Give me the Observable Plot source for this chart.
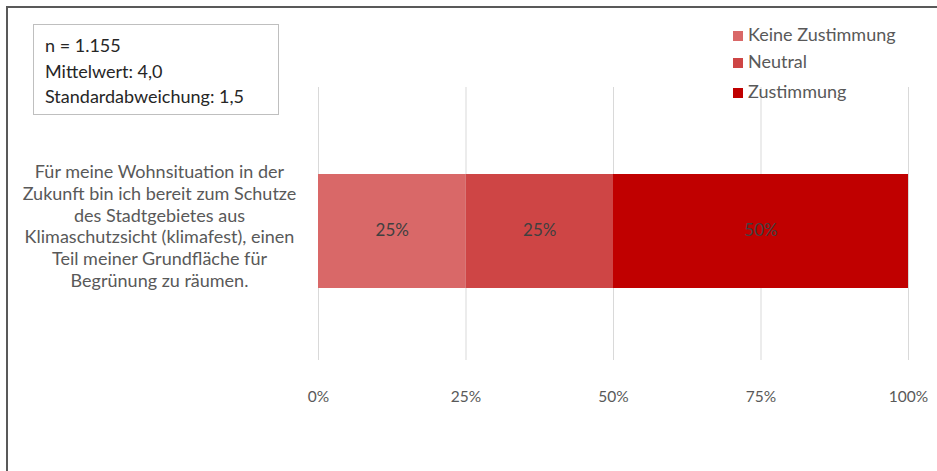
<!DOCTYPE html>
<html><head><meta charset="utf-8">
<script src="https://cdn.jsdelivr.net/npm/d3@7"></script>
<script src="https://cdn.jsdelivr.net/npm/@observablehq/plot@0.6"></script>
<style>
body{margin:0;background:#fff;font-family:Lato,"Open Sans",sans-serif}
#wrap{position:relative;width:937px;height:471px;overflow:hidden;background:#fff}
#border{position:absolute;left:6px;top:6px;width:960px;height:500px;border-left:2px solid #595959;border-top:2px solid #595959;pointer-events:none}
#chart{position:absolute;left:0;top:0}
#stats{position:absolute;left:33px;top:24px;width:244px;height:89px;border:1px solid #BFBFBF;background:#fff}
#stats div{position:absolute;left:11px;font-size:18px;line-height:22px;color:#262626;white-space:nowrap}
#legend{position:absolute;left:733px;top:0}
.sw{position:absolute;left:0;width:10px;height:10px}
.tx{position:absolute;left:15px;white-space:nowrap;font-size:18px;line-height:22px;color:#595959}
</style></head>
<body>
<div id="wrap">
  <div id="chart"></div>
  <div id="stats"></div>
  <div id="legend"></div>
  <div id="border"></div>
</div>
<script>
const question = "Für meine Wohnsituation in der\nZukunft bin ich bereit zum Schutze\ndes Stadtgebietes aus\nKlimaschutzsicht (klimafest), einen\nTeil meiner Grundfläche für\nBegrünung zu räumen.";
const categories = ["Keine Zustimmung", "Neutral", "Zustimmung"];
const values = [25, 25, 50];
const colors = ["#D96868", "#CE4545", "#C00000"];
const xTicks = [0, 25, 50, 75, 100];
const statsLines = ["n = 1.155", "Mittelwert: 4,0", "Standardabweichung: 1,5"];

const data = categories.map((c, i) => ({question, category: c, value: values[i]}));

const plot = Plot.plot({
  width: 937,
  height: 471,
  marginLeft: 318,
  marginRight: 29,
  marginTop: 87,
  marginBottom: 111,
  style: {fontFamily: "Lato, 'Open Sans', sans-serif", background: "transparent"},
  x: {domain: [0, 100], ticks: xTicks, tickFormat: d => d + "%", label: null},
  y: {domain: [question], padding: 0, axis: null},
  color: {domain: categories, range: colors},
  marks: [
    Plot.ruleX(xTicks, {stroke: "#D9D9D9", strokeWidth: 1}),
    Plot.barX(data, Plot.stackX({x: "value", y: "question", fill: "category", insetTop: 87, insetBottom: 72})),
    Plot.text(data, Plot.stackX({x: "value", y: "question", text: d => d.value + "%", fill: "#404040", fontSize: 17, dy: 7})),
    Plot.text([question], {x: 0, y: d => d, text: d => d, dx: -159, dy: 1.5, textAnchor: "middle", lineHeight: 1.215, fill: "#595959", fontSize: 18}),
    Plot.axisX({ticks: xTicks, tickFormat: d => d + "%", tickSize: 0, tickPadding: 30, fontSize: 15.5, color: "#595959", anchor: "bottom", label: null})
  ]
});
document.getElementById("chart").appendChild(plot);

const stats = document.getElementById("stats");
statsLines.forEach((t, i) => {
  const d = document.createElement("div");
  d.textContent = t;
  d.style.top = (9 + i * 25.5) + "px";
  stats.appendChild(d);
});

const legend = document.getElementById("legend");
const swTops = [31, 58, 88];
categories.forEach((c, i) => {
  const sw = document.createElement("span");
  sw.className = "sw";
  sw.style.background = colors[i];
  sw.style.top = swTops[i] + "px";
  const tx = document.createElement("span");
  tx.className = "tx";
  tx.textContent = c;
  tx.style.top = (swTops[i] - 8) + "px";
  legend.appendChild(sw);
  legend.appendChild(tx);
});
</script>
</body></html>
